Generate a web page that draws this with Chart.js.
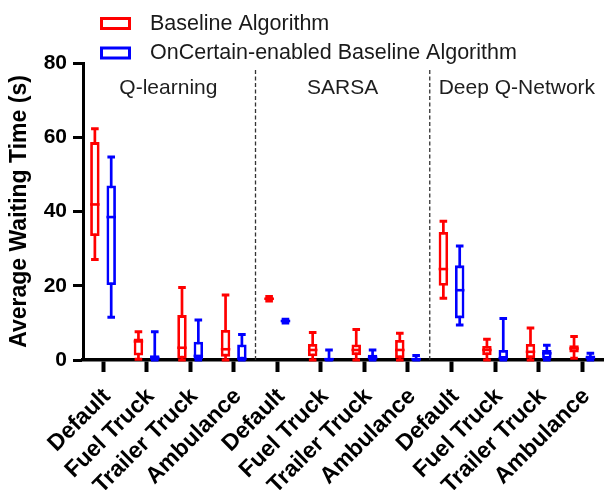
<!DOCTYPE html>
<html>
<head>
<meta charset="utf-8">
<script src="https://cdn.jsdelivr.net/npm/chart.js@4/dist/chart.umd.min.js"></script>
<style>
  html, body { margin: 0; padding: 0; background: #ffffff; }
  #wrap { width: 604px; height: 490px; }
</style>
</head>
<body>
<div id="wrap"><canvas id="chart" width="604" height="490"></canvas></div>
<script>
// Vehicle categories, repeated for each learning algorithm
const categories = ['Default', 'Fuel Truck', 'Trailer Truck', 'Ambulance',
                    'Default', 'Fuel Truck', 'Trailer Truck', 'Ambulance',
                    'Default', 'Fuel Truck', 'Trailer Truck', 'Ambulance'];
const groups = ['Q-learning', 'SARSA', 'Deep Q-Network'];
const seriesNames = ['Baseline Algorithm', 'OnCertain-enabled Baseline Algorithm'];
const yTicks = [0, 20, 40, 60, 80];

// Baseline Algorithm: five-number summaries (s)
const baseMin    = [27.1, 0.2, 0.0, 0.0, 15.9, 0.0, 0.0, 0.0, 16.6, 0.0, 0.0, 0.5];
const baseQ1     = [33.4, 1.2, 0.4, 0.9, 16.2, 1.0, 1.3, 0.5, 20.0, 1.3, 0.5, 2.0];
const baseMedian = [41.9, 5.0, 3.3, 2.9, 16.5, 2.7, 2.7, 2.7, 24.5, 2.7, 2.2, 3.1];
const baseQ3     = [58.7, 5.8, 12.1, 8.1, 16.8, 4.3, 4.2, 5.4, 34.5, 3.8, 4.3, 4.0];
const baseMax    = [62.3, 7.6, 19.5, 17.5, 17.1, 7.4, 8.2, 7.2, 37.4, 5.6, 8.6, 6.3];

// OnCertain-enabled Baseline Algorithm: five-number summaries (s)
const oncMin    = [11.5, 0.0, 0.0, 0.0, 10.0, 0.0, 0.0, 0.0, 9.4, 0.0, 0.0, 0.0];
const oncQ1     = [20.2, 0.0, 0.3, 0.0, 10.3, 0.0, 0.0, 0.0, 11.2, 0.3, 0.3, 0.2];
const oncMedian = [38.5, 0.5, 1.1, 0.3, 10.5, 0.2, 0.6, 0.2, 18.8, 0.5, 1.8, 0.6];
const oncQ3     = [47.0, 1.3, 4.9, 4.2, 10.8, 0.6, 1.4, 0.6, 25.5, 2.7, 2.7, 1.2];
const oncMax    = [54.7, 7.6, 10.8, 6.9, 11.0, 2.7, 2.7, 1.2, 30.7, 11.2, 4.0, 1.8];

const RED = 'rgb(255, 0, 0)';
const BLUE = 'rgb(0, 0, 255)';
const FONT = "'Liberation Sans', Arial, sans-serif";

const summaries = [
  { min: baseMin, med: baseMedian, max: baseMax },
  { min: oncMin,  med: oncMedian,  max: oncMax }
];

function boxData(q1, q3) {
  return categories.map((c, i) => ({ x: i, y: [q1[i], q3[i]] }));
}

// Whiskers with caps behind the boxes, median lines on top
const boxPlotPlugin = {
  id: 'boxPlot',
  beforeDatasetsDraw(chart) {
    const { ctx, scales: { y } } = chart;
    ctx.save();
    summaries.forEach((s, d) => {
      const meta = chart.getDatasetMeta(d);
      const color = chart.data.datasets[d].borderColor;
      ctx.strokeStyle = color;
      meta.data.forEach((el, i) => {
        const x = el.x;
        const yMin = y.getPixelForValue(s.min[i]);
        const yMax = y.getPixelForValue(s.max[i]);
        ctx.lineWidth = 2.7;
        ctx.beginPath();
        ctx.moveTo(x, yMin);
        ctx.lineTo(x, yMax);
        ctx.stroke();
        ctx.lineWidth = 3;
        ctx.beginPath();
        ctx.moveTo(x - 3.8, yMax);
        ctx.lineTo(x + 3.8, yMax);
        ctx.moveTo(x - 3.8, yMin);
        ctx.lineTo(x + 3.8, yMin);
        ctx.stroke();
      });
    });
    ctx.restore();
  },
  afterDatasetsDraw(chart) {
    const { ctx, scales: { y } } = chart;
    ctx.save();
    summaries.forEach((s, d) => {
      const meta = chart.getDatasetMeta(d);
      ctx.strokeStyle = chart.data.datasets[d].borderColor;
      ctx.lineWidth = 2.6;
      meta.data.forEach((el, i) => {
        const ym = y.getPixelForValue(s.med[i]);
        ctx.beginPath();
        ctx.moveTo(el.x - el.width / 2, ym);
        ctx.lineTo(el.x + el.width / 2, ym);
        ctx.stroke();
      });
    });
    ctx.restore();
  }
};

// Dashed dividers between algorithms and the algorithm names
const groupPlugin = {
  id: 'groupLabels',
  beforeDatasetsDraw(chart) {
    const { ctx, scales: { x, y } } = chart;
    const per = categories.length / groups.length;
    ctx.save();
    ctx.strokeStyle = '#333333';
    ctx.lineWidth = 1.3;
    ctx.setLineDash([4, 2.5]);
    for (let g = 1; g < groups.length; g++) {
      const px = x.getPixelForValue(g * per - 0.5);
      ctx.beginPath();
      ctx.moveTo(px, y.getPixelForValue(0));
      ctx.lineTo(px, y.getPixelForValue(78.5));
      ctx.stroke();
    }
    ctx.setLineDash([]);
    ctx.fillStyle = '#1e1e1e';
    ctx.font = '21px ' + FONT;
    ctx.textAlign = 'center';
    ctx.textBaseline = 'middle';
    groups.forEach((name, g) => {
      ctx.fillText(name, x.getPixelForValue(g * per + (per - 1) / 2), y.getPixelForValue(73.3));
    });
    ctx.restore();
  }
};

// Legend drawn above the plot area
const legendPlugin = {
  id: 'topLegend',
  afterDraw(chart) {
    const { ctx } = chart;
    ctx.save();
    ctx.font = '21.5px ' + FONT;
    ctx.textBaseline = 'middle';
    ctx.textAlign = 'left';
    chart.data.datasets.forEach((ds, i) => {
      const top = 17 + i * 29.5;
      ctx.strokeStyle = ds.borderColor;
      ctx.lineWidth = 3;
      ctx.strokeRect(101.5, top + 1.5, 28, 10);
      ctx.fillStyle = '#1a1a1a';
      ctx.fillText(ds.label, 150, top + 7);
    });
    ctx.restore();
  }
};

new Chart(document.getElementById('chart'), {
  type: 'bar',
  data: {
    datasets: [
      {
        label: seriesNames[0],
        data: boxData(baseQ1, baseQ3),
        borderColor: RED,
        backgroundColor: '#ffffff',
        borderWidth: 2.8,
        borderSkipped: false
      },
      {
        label: seriesNames[1],
        data: boxData(oncQ1, oncQ3),
        borderColor: BLUE,
        backgroundColor: '#ffffff',
        borderWidth: 2.8,
        borderSkipped: false
      }
    ]
  },
  options: {
    responsive: false,
    devicePixelRatio: 1,
    animation: false,
    categoryPercentage: 0.75,
    barPercentage: 0.58,
    layout: { padding: { top: 63, left: 0, right: 0, bottom: 0 } },
    plugins: {
      legend: { display: false },
      tooltip: { enabled: false }
    },
    scales: {
      x: {
        type: 'linear',
        offset: false,
        min: -0.46,
        max: 11.5,
        afterBuildTicks(scale) {
          scale.ticks = categories.map((c, i) => ({ value: i }));
        },
        afterFit(scale) {
          scale.height = 130;
          scale.paddingLeft = 0;
          scale.paddingRight = 0;
        },
        grid: {
          display: true,
          offset: false,
          drawOnChartArea: false,
          drawTicks: true,
          tickLength: 12,
          tickWidth: 4,
          tickColor: '#000000'
        },
        border: { display: true, color: '#000000', width: 3.5 },
        ticks: {
          autoSkip: false,
          maxRotation: 45,
          minRotation: 45,
          padding: 11,
          labelOffset: 4,
          color: '#000000',
          font: { family: FONT, size: 23, weight: 'bold' },
          callback: (v) => categories[Math.round(v)]
        }
      },
      y: {
        min: 0,
        max: 80,
        afterBuildTicks(scale) {
          scale.ticks = yTicks.map(v => ({ value: v }));
        },
        afterFit(scale) {
          scale.width = 83;
        },
        grid: {
          display: true,
          drawOnChartArea: false,
          drawTicks: true,
          tickLength: 10,
          tickWidth: 3,
          tickColor: '#000000'
        },
        border: { display: true, color: '#000000', width: 3 },
        ticks: {
          padding: 6,
          color: '#000000',
          font: { family: FONT, size: 21, weight: 'bold' }
        },
        title: {
          display: true,
          text: 'Average Waiting Time (s)',
          color: '#000000',
          font: { family: FONT, size: 23, weight: 'bold' },
          padding: { top: 6, bottom: 0 }
        }
      }
    }
  },
  plugins: [boxPlotPlugin, groupPlugin, legendPlugin]
});
</script>
</body>
</html>
